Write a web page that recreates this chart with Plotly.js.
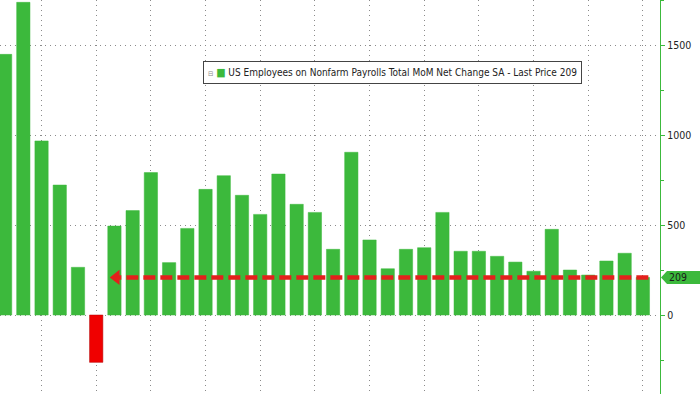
<!DOCTYPE html>
<html>
<head>
<meta charset="utf-8">
<script src="https://cdn.plot.ly/plotly-3.0.1.min.js"></script>
<style>html,body{margin:0;padding:0;background:#fff;}#chart{width:700px;height:394px;}</style>
</head>
<body>
<div id="chart"></div>
<script>
// Monthly bars, Jul 2020 .. Jun 2023 (index order)
const months = ["2020-07","2020-08","2020-09","2020-10","2020-11","2020-12",
  "2021-01","2021-02","2021-03","2021-04","2021-05","2021-06",
  "2021-07","2021-08","2021-09","2021-10","2021-11","2021-12",
  "2022-01","2022-02","2022-03","2022-04","2022-05","2022-06",
  "2022-07","2022-08","2022-09","2022-10","2022-11","2022-12",
  "2023-01","2023-02","2023-03","2023-04","2023-05","2023-06"];
const payrolls = [1448, 1737, 967, 722, 265, -263,
  494, 580, 791, 291, 481, 698,
  774, 665, 559, 783, 615, 570,
  365, 904, 417, 257, 365, 374,
  570, 354, 354, 326, 294, 243,
  476, 250, 222, 300, 343, 209];
const lastPrice = 209;
const seriesName = "US Employees on Nonfarm Payrolls Total MoM Net Change SA - Last Price 209";
const yTicks = [0, 500, 1000, 1500];
const arrowFrom = 35.3;   // right end of dashed arrow (bar index)
const arrowTo = 6.15;     // left end of dashed arrow (bar index)

const idx = months.map((m, i) => i);
const GREEN = "#3cb93c", RED = "#f00000";
const FONT = "'DejaVu Sans Condensed', 'DejaVu Sans', sans-serif";

const bars = {
  type: "bar", x: idx, y: payrolls, name: seriesName,
  marker: {
    color: payrolls.map(v => v < 0 ? RED : GREEN),
    line: {color: payrolls.map(v => v < 0 ? "#b00000" : GREEN), width: 0.5}
  },
  hoverinfo: "skip", showlegend: false
};
const dashLine = {
  type: "scatter", mode: "lines", x: [arrowFrom, arrowTo], y: [lastPrice, lastPrice],
  line: {color: "#e4201c", width: 4.5, dash: "12px,5px"}, showlegend: false, hoverinfo: "skip"
};
const arrowHead = {
  type: "scatter", mode: "markers", x: [arrowTo - 0.05], y: [lastPrice],
  marker: {symbol: "triangle-left", size: 13, color: "#e4201c"}, showlegend: false, hoverinfo: "skip"
};

const layout = {
  width: 700, height: 394,
  margin: {l: 0, r: 40, t: 0, b: 0, pad: 0},
  paper_bgcolor: "#fff", plot_bgcolor: "#fff",
  bargap: 0.27,
  font: {family: FONT, size: 10, color: "#222"},
  xaxis: {
    range: [-0.28, 35.94], showticklabels: false, ticks: "",
    tick0: 2, dtick: 3, showgrid: true, gridcolor: "#8a8a8a", griddash: "1px,4px", gridwidth: 1,
    zeroline: false, showline: false, fixedrange: true
  },
  yaxis: {
    side: "right", range: [-438.9, 1750], tickvals: yTicks, ticktext: yTicks.map(String),
    ticks: "outside", ticklen: 4, tickcolor: GREEN, tickwidth: 1,
    minor: {dtick: 250, tick0: 0, ticks: "outside", ticklen: 3, tickcolor: GREEN, showgrid: false},
    showgrid: true, gridcolor: "#8a8a8a", griddash: "1px,4px", gridwidth: 1,
    zeroline: false, showline: true, linecolor: GREEN, linewidth: 1.2,
    tickfont: {family: FONT, size: 10.5, color: "#222"},
    fixedrange: true
  },
  showlegend: false,
  shapes: [{
    type: "path", xref: "paper", xsizemode: "pixel", xanchor: 1,
    yref: "y", ysizemode: "pixel", yanchor: lastPrice,
    path: "M1,0 L7,-6.5 L40,-6.5 L40,6.5 L7,6.5 Z",
    fillcolor: GREEN, line: {width: 0}, layer: "above"
  }],
  annotations: [{
    xref: "paper", x: 1, xshift: 7, xanchor: "left", yref: "y", y: lastPrice,
    yanchor: "middle", text: String(lastPrice), showarrow: false,
    font: {family: FONT, size: 10.5, color: "#1a1a1a"}
  }, {
    // legend box
    xref: "paper", yref: "paper", x: 203 / 660, y: 1 - 72.5 / 394,
    xanchor: "left", yanchor: "middle", showarrow: false,
    bgcolor: "#fff", bordercolor: "#444", borderwidth: 1, borderpad: 4,
    text: '<span style="font-size:7px;color:#888">⊟</span> <span style="color:' + GREEN + ';font-size:11px">■</span> ' + seriesName,
    font: {family: FONT, size: 10, color: "#222"}, align: "left"
  }]
};

Plotly.newPlot("chart", [bars, dashLine, arrowHead], layout, {displayModeBar: false, staticPlot: true});
</script>
</body>
</html>
